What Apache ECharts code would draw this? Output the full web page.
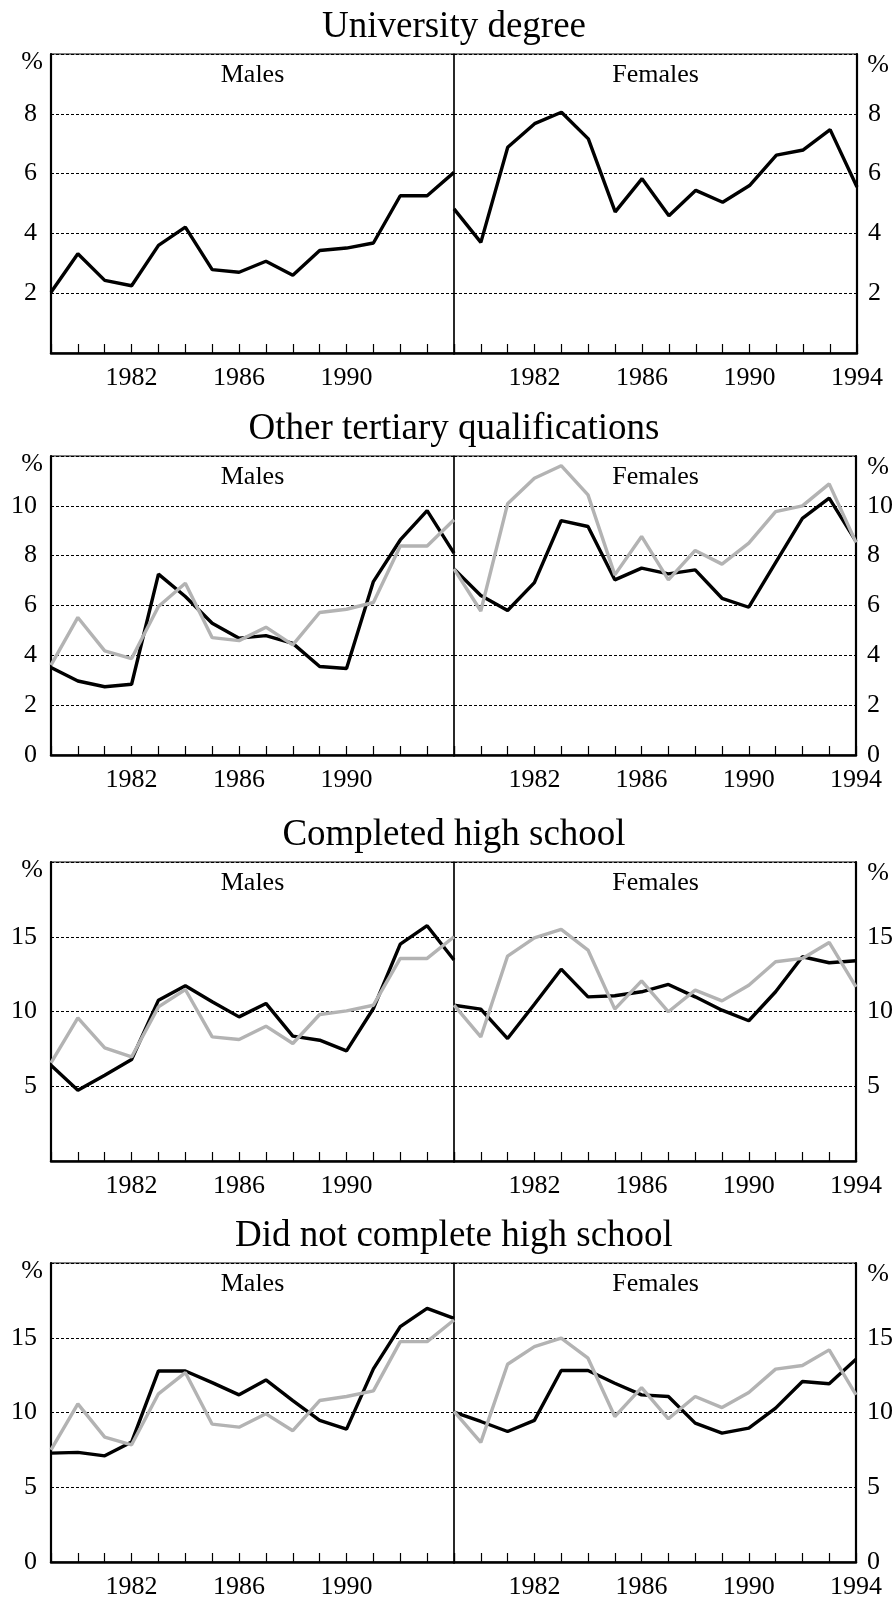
<!DOCTYPE html>
<html>
<head>
<meta charset="utf-8">
<script src="https://cdn.jsdelivr.net/npm/echarts@6/dist/echarts.min.js"></script>
<style>
html, body { margin: 0; padding: 0; background: #fff; }
#main { width: 896px; height: 1605px; }
</style>
</head>
<body>
<div id="main"></div>
<script>
// 年份（横轴）
var years = [1979, 1980, 1981, 1982, 1983, 1984, 1985, 1986, 1987, 1988, 1989, 1990, 1991, 1992, 1993, 1994];
var xTickLabels = [1982, 1986, 1990, 1994];

// 各面板标题及纵轴刻度
var panelTitles = ['University degree', 'Other tertiary qualifications', 'Completed high school', 'Did not complete high school'];
var yMax = [10, 12, 20, 20];
var yStep = [2, 2, 5, 5];
var yTickLabels = [[2, 4, 6, 8], [0, 2, 4, 6, 8, 10], [5, 10, 15], [0, 5, 10, 15]];

// University degree
var uniMale = [2.03, 3.32, 2.43, 2.25, 3.6, 4.21, 2.79, 2.7, 3.07, 2.6, 3.43, 3.51, 3.68, 5.26, 5.26, 6.04];
var uniFemale = [4.82, 3.7, 6.88, 7.67, 8.05, 7.16, 4.72, 5.83, 4.59, 5.44, 5.04, 5.6, 6.62, 6.79, 7.47, 5.55];

// Other tertiary qualifications
var tertMaleBlack = [3.51, 2.97, 2.74, 2.84, 7.26, 6.36, 5.29, 4.69, 4.79, 4.48, 3.55, 3.47, 6.96, 8.63, 9.81, 8.1];
var tertMaleGrey = [3.61, 5.52, 4.18, 3.87, 5.96, 6.89, 4.71, 4.59, 5.13, 4.42, 5.72, 5.85, 6.12, 8.39, 8.39, 9.44];
var tertFemaleBlack = [7.47, 6.4, 5.8, 6.92, 9.41, 9.17, 7.03, 7.5, 7.27, 7.43, 6.29, 5.93, 7.72, 9.5, 10.31, 8.57];
var tertFemaleGrey = [7.47, 5.78, 10.08, 11.11, 11.61, 10.44, 7.23, 8.77, 7.03, 8.21, 7.66, 8.5, 9.77, 10.0, 10.88, 8.53];

// Completed high school
var hsMaleBlack = [6.41, 4.73, 5.74, 6.79, 10.76, 11.72, 10.65, 9.64, 10.54, 8.35, 8.08, 7.37, 10.2, 14.51, 15.74, 13.44];
var hsMaleGrey = [6.56, 9.58, 7.57, 6.96, 10.31, 11.47, 8.3, 8.13, 9.02, 7.86, 9.8, 10.04, 10.42, 13.55, 13.55, 15.0];
var hsFemaleBlack = [10.42, 10.16, 8.19, 10.49, 12.83, 10.98, 11.05, 11.32, 11.81, 10.98, 10.09, 9.38, 11.32, 13.66, 13.26, 13.39];
var hsFemaleGrey = [10.42, 8.3, 13.71, 14.93, 15.49, 14.11, 10.16, 12.05, 9.98, 11.43, 10.71, 11.76, 13.33, 13.55, 14.62, 11.65];

// Did not complete high school
var noHsMaleBlack = [7.28, 7.33, 7.1, 8.02, 12.78, 12.78, 12.0, 11.18, 12.18, 10.8, 9.47, 8.89, 12.92, 15.75, 16.97, 16.3];
var noHsMaleGrey = [7.5, 10.58, 8.35, 7.84, 11.25, 12.67, 9.22, 9.02, 9.91, 8.78, 10.8, 11.07, 11.45, 14.74, 14.74, 16.19];
var noHsFemaleBlack = [10.02, 9.4, 8.73, 9.47, 12.81, 12.81, 11.96, 11.18, 11.07, 9.29, 8.62, 8.95, 10.29, 12.07, 11.92, 13.56];
var noHsFemaleGrey = [10.07, 8.0, 13.23, 14.41, 14.97, 13.63, 9.73, 11.67, 9.58, 11.07, 10.33, 11.34, 12.9, 13.14, 14.19, 11.18];

// [面板][男/女] -> [黑线, 灰线]
var seriesByPanel = [
    [[uniMale, null], [uniFemale, null]],
    [[tertMaleBlack, tertMaleGrey], [tertFemaleBlack, tertFemaleGrey]],
    [[hsMaleBlack, hsMaleGrey], [hsFemaleBlack, hsFemaleGrey]],
    [[noHsMaleBlack, noHsMaleGrey], [noHsFemaleBlack, noHsFemaleGrey]]
];

var FONT = 'Liberation Serif';
var gridTops = [54, 456, 862, 1263];
var gridH = 299, gridW = 403, leftX = 51, midX = 454;

var grids = [], xAxes = [], yAxes = [], series = [], graphics = [];

function toPairs(vals) {
    var out = [];
    for (var i = 0; i < years.length; i++) {
        out.push([years[i], vals[i]]);
    }
    return out;
}

function addPanel(p, side) {
    var idx = grids.length;
    var right = side == 1;

    grids.push({
        left: right ? midX : leftX, top: gridTops[p], width: gridW, height: gridH,
        show: true, borderColor: '#000', borderWidth: 1.2
    });

    xAxes.push({
        gridIndex: idx, type: 'value', min: 1979, max: 1994, interval: 1,
        axisLine: { lineStyle: { color: '#000', width: 2.5 } },
        axisTick: { inside: true, length: 9, lineStyle: { color: '#000', width: 1.2 } },
        splitLine: { show: false },
        axisLabel: {
            color: '#000', fontFamily: FONT, fontSize: 26, margin: 12,
            formatter: function (v) {
                if (xTickLabels.indexOf(v) < 0) return '';
                if (!right && v == 1994) return '';
                return String(v);
            }
        }
    });

    yAxes.push({
        gridIndex: idx, type: 'value', min: 0, max: yMax[p], interval: yStep[p],
        position: right ? 'right' : 'left',
        axisLine: { show: true, lineStyle: { color: '#000', width: 2.2 } },
        axisTick: { show: false },
        splitLine: { show: true, lineStyle: { color: '#000', width: 1, type: [3, 2] } },
        axisLabel: {
            color: '#000', fontFamily: FONT, fontSize: 26, margin: right ? 11 : 14,
            padding: [9, 0, 0, 0],
            formatter: function (v) {
                return yTickLabels[p].indexOf(v) >= 0 ? String(v) : '';
            }
        }
    });

    var pair = seriesByPanel[p][side];
    series.push({
        type: 'line', xAxisIndex: idx, yAxisIndex: idx, data: toPairs(pair[0]),
        symbol: 'none', lineStyle: { color: '#000', width: 3.4 }, z: 3
    });
    if (pair[1]) {
        series.push({
            type: 'line', xAxisIndex: idx, yAxisIndex: idx, data: toPairs(pair[1]),
            symbol: 'none', lineStyle: { color: '#b3b3b3', width: 3.4 }, z: 4
        });
    }

    // Males / Females
    graphics.push({
        type: 'text', x: (right ? midX : leftX) + gridW / 2, y: gridTops[p] + 21,
        style: { text: right ? 'Females' : 'Males', font: '26px "' + FONT + '"', fill: '#000', align: 'center', verticalAlign: 'middle' }
    });
    // % 单位
    graphics.push({
        type: 'text', x: right ? 878 : 32, y: gridTops[p] + (right ? 11 : 8),
        style: { text: '%', font: '26px "' + FONT + '"', fill: '#000', align: 'center', verticalAlign: 'middle' }
    });
}

for (var p = 0; p < 4; p++) {
    addPanel(p, 0);
    addPanel(p, 1);
    graphics.push({
        type: 'text', x: midX, y: gridTops[p] - 27,
        style: { text: panelTitles[p], font: '37px "' + FONT + '"', fill: '#000', align: 'center', verticalAlign: 'middle' }
    });
}

var myChart = echarts.init(document.getElementById('main'));
myChart.setOption({
    animation: false,
    backgroundColor: '#fff',
    grid: grids,
    xAxis: xAxes,
    yAxis: yAxes,
    series: series,
    graphic: graphics
});
</script>
</body>
</html>
